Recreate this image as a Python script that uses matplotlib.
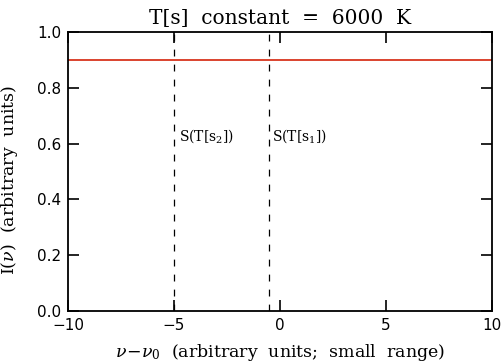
import matplotlib
matplotlib.use("Agg")
import matplotlib.pyplot as plt
import numpy as np

# Frequency offset grid and constant intensity
x_range = [-10, 10]
intensity_level = 0.9
source_positions = [-5.0, -0.5]
source_labels = [r"S(T[s$_2$])", r"S(T[s$_1$])"]
label_offsets = [0.22, 0.15]
label_y = 0.625
x_ticks = [-10, -5, 0, 5, 10]
y_ticks = [0.0, 0.2, 0.4, 0.6, 0.8, 1.0]

plt.rcParams["mathtext.fontset"] = "dejavuserif"

fig = plt.figure(figsize=(5.03, 3.64), dpi=100)
ax = fig.add_axes([0.135, 0.146, 0.843, 0.766])

ax.plot(x_range, [intensity_level, intensity_level], color="#d8351e", lw=1.3)
for xp, lab, off in zip(source_positions, source_labels, label_offsets):
    ax.axvline(xp, color="black", ls=(0, (5.5, 6.5)), lw=0.9)
    ax.text(xp + off, label_y, lab, fontsize=10, family="DejaVu Serif",
            va="center", ha="left")

ax.set_xlim(*x_range)
ax.set_ylim(0, 1)
ax.set_xticks(x_ticks)
ax.set_yticks(y_ticks)
ax.set_xticklabels([f"{t:d}".replace("-", "\u2212") for t in x_ticks],
                   family="DejaVu Sans", fontsize=11)
ax.set_yticklabels([f"{t:.1f}" for t in y_ticks],
                   family="DejaVu Sans", fontsize=11)
ax.tick_params(direction="in", length=8, width=1.2, top=True, right=True, pad=5)
for s in ax.spines.values():
    s.set_linewidth(1.3)

ax.set_title("T[s]  constant  =  6000  K", family="DejaVu Serif",
             fontsize=14.5, pad=6)
ax.set_xlabel(r"$\nu\!-\!\nu_0$  (arbitrary  units;  small  range)",
              family="DejaVu Serif", fontsize=12.5, labelpad=0)
ax.xaxis.set_label_coords(0.5, -0.112)
ax.set_ylabel(r"I($\nu$)  (arbitrary  units)", family="DejaVu Serif",
              fontsize=12.5)
ax.yaxis.set_label_coords(-0.112, 0.47)

fig.savefig("out.png", dpi=100)
